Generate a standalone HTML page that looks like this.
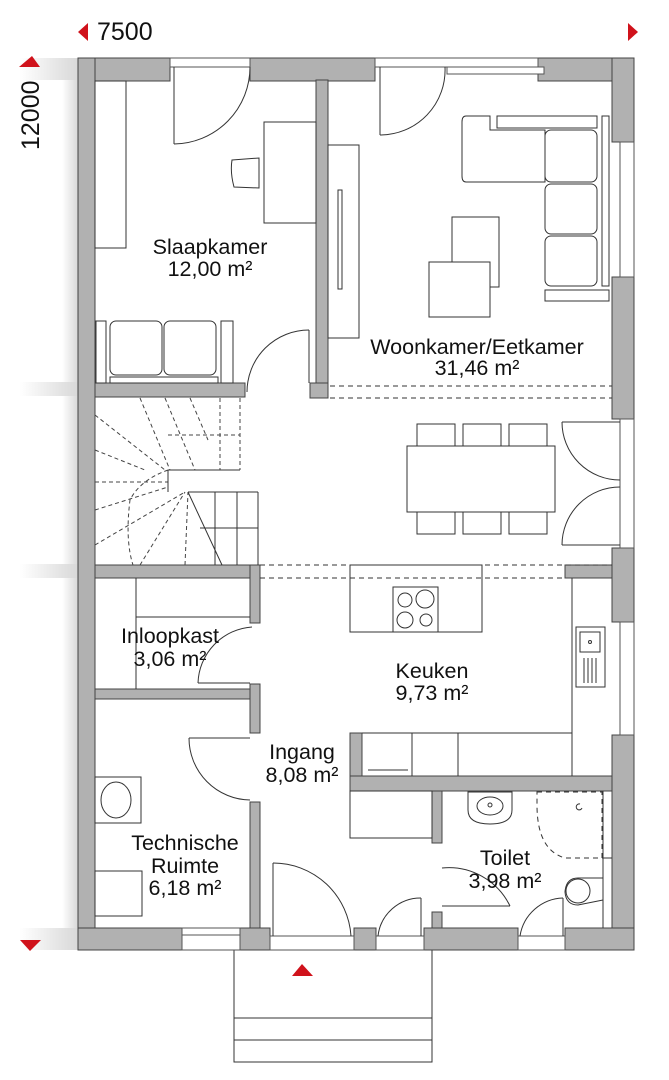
<!DOCTYPE html>
<html><head><meta charset="utf-8"><style>
html,body{margin:0;padding:0;background:#fff;width:669px;height:1080px;overflow:hidden}
svg{display:block}
text{font-family:"Liberation Sans Narrow","Liberation Sans",sans-serif;fill:#111}
</style></head><body>
<svg width="669" height="1080" viewBox="0 0 669 1080" xmlns="http://www.w3.org/2000/svg">
<defs>
<linearGradient id="gh" x1="0" x2="1" y1="0" y2="0"><stop offset="0" stop-color="#fff"/><stop offset="1" stop-color="#d8d8d8"/></linearGradient>
</defs>
<rect x="62" y="60" width="16" height="890" fill="url(#gh)"/>
<rect x="20" y="58" width="58" height="22" fill="url(#gh)"/>
<rect x="20" y="382" width="58" height="14" fill="url(#gh)"/>
<rect x="20" y="564" width="58" height="14" fill="url(#gh)"/>
<rect x="20" y="928" width="58" height="22" fill="url(#gh)"/>
<polygon points="78,32 88,23 88,41" fill="#d0121b"/>
<text x="97" y="40" font-size="25">7500</text>
<polygon points="638,32 628,23 628,41" fill="#d0121b"/>
<polygon points="32,56 19,67 40,67" fill="#d0121b"/>
<text transform="translate(39,150) rotate(-90)" font-size="25">12000</text>
<polygon points="20,940 41,940 30,951" fill="#d0121b"/>
<g fill="none" stroke="#333" stroke-width="1">
<rect x="234" y="950" width="198" height="112"/>
<line x1="234" y1="1018" x2="432" y2="1018"/>
<line x1="234" y1="1040" x2="432" y2="1040"/>
</g>
<polygon points="302,964 292,976 313,976" fill="#d0121b"/>
<g fill="#b1b1b1" stroke="#444" stroke-width="1">
<rect x="78" y="58" width="92" height="23"/>
<rect x="250" y="58" width="125" height="23"/>
<rect x="538" y="58" width="96" height="23"/>
<rect x="78" y="58" width="17" height="892"/>
<rect x="612" y="58" width="22" height="84"/>
<rect x="612" y="277" width="22" height="142"/>
<rect x="612" y="548" width="22" height="74"/>
<rect x="612" y="735" width="22" height="215"/>
<rect x="78" y="928" width="104" height="22"/>
<rect x="240" y="928" width="30" height="22"/>
<rect x="354" y="928" width="22" height="22"/>
<rect x="424" y="928" width="94" height="22"/>
<rect x="565" y="928" width="69" height="22"/>
<rect x="316" y="80" width="12" height="318"/>
<rect x="95" y="383" width="150" height="14"/>
<rect x="310" y="383" width="18" height="15"/>
<rect x="95" y="565" width="165" height="13"/>
<rect x="565" y="565" width="47" height="13"/>
<rect x="250" y="565" width="10" height="58"/>
<rect x="95" y="689" width="165" height="10"/>
<rect x="250" y="684" width="10" height="49"/>
<rect x="250" y="802" width="10" height="126"/>
<rect x="350" y="733" width="12" height="58"/>
<rect x="350" y="776" width="262" height="15"/>
<rect x="432" y="791" width="10" height="52"/>
<rect x="432" y="912" width="10" height="16"/>
</g>
<g fill="#fff" stroke="#555" stroke-width="1">
<rect x="170" y="58" width="80" height="9"/>
<rect x="375" y="58" width="163" height="9"/>
<rect x="447" y="67" width="97" height="7"/>
<rect x="620" y="142" width="14" height="135"/>
<rect x="620" y="419" width="14" height="129"/>
<rect x="620" y="622" width="14" height="113"/>
<rect x="182" y="928" width="58" height="22"/>
<line x1="182" y1="935" x2="240" y2="935"/>
<rect x="270" y="936" width="84" height="14"/>
<rect x="376" y="936" width="48" height="14"/>
<rect x="518" y="936" width="47" height="14"/>
</g>
<g fill="none" stroke="#333" stroke-width="1">
<rect x="95" y="81" width="31" height="167"/>
<rect x="264" y="122" width="52" height="101"/>
<path d="M232,160 L259,158 L259,188 L234,187 Q230,172 232,160Z"/>
<line x1="174" y1="67" x2="174" y2="144"/>
<path d="M174,144 A77,77 0 0 0 250,67"/>
<rect x="96" y="321" width="10" height="62"/>
<rect x="110" y="321" width="52" height="54" rx="6"/>
<rect x="164" y="321" width="52" height="54" rx="6"/>
<rect x="221" y="321" width="12" height="62"/>
<rect x="110" y="377" width="108" height="6"/>
<line x1="309" y1="330" x2="309" y2="383"/>
<path d="M309,330 A62,62 0 0 0 247,392"/>
<rect x="328" y="145" width="31" height="193"/>
<rect x="338" y="190" width="4" height="99"/>
<line x1="380" y1="67" x2="380" y2="135"/>
<path d="M380,135 A65,65 0 0 0 445,67"/>
<path d="M466,116 L490,116 L490,130 L545,130 L545,182 L466,182 Q462,182 462,176 L462,122 Q462,116 466,116Z"/>
<rect x="497" y="116" width="100" height="12"/>
<rect x="602" y="116" width="7" height="170"/>
<rect x="545" y="130" width="52" height="52" rx="6"/>
<rect x="545" y="184" width="52" height="50" rx="6"/>
<rect x="545" y="236" width="52" height="50" rx="6"/>
<rect x="545" y="290" width="64" height="11"/>
<rect x="452" y="217" width="47" height="70"/>
<rect x="429" y="262" width="61" height="55" fill="#fff"/>
<g stroke-dasharray="5,4">
<line x1="330" y1="386" x2="612" y2="386"/>
<line x1="330" y1="398" x2="612" y2="398"/>
<line x1="260" y1="565" x2="612" y2="565"/>
<line x1="260" y1="578" x2="565" y2="578"/>
</g>
<rect x="407" y="446" width="148" height="66"/>
<rect x="417" y="424" width="38" height="22"/>
<rect x="463" y="424" width="38" height="22"/>
<rect x="509" y="424" width="38" height="22"/>
<rect x="417" y="512" width="38" height="22"/>
<rect x="463" y="512" width="38" height="22"/>
<rect x="509" y="512" width="38" height="22"/>
<line x1="562" y1="422" x2="620" y2="422"/>
<path d="M562,422 A58,58 0 0 0 620,480"/>
<line x1="562" y1="545" x2="620" y2="545"/>
<path d="M562,545 A58,58 0 0 1 620,487"/>
<g stroke-dasharray="4,3" stroke="#444">
<line x1="240" y1="398" x2="240" y2="470"/>
<line x1="220" y1="398" x2="220" y2="470"/>
<line x1="170" y1="470" x2="240" y2="470"/>
<line x1="168" y1="435" x2="240" y2="435"/>
<line x1="140" y1="398" x2="170" y2="470"/>
<line x1="165" y1="398" x2="195" y2="470"/>
<line x1="190" y1="398" x2="208" y2="440"/>
<line x1="95" y1="415" x2="165" y2="470"/>
<line x1="95" y1="450" x2="145" y2="470"/>
<line x1="95" y1="482" x2="168" y2="482"/>
<line x1="95" y1="510" x2="168" y2="487"/>
<line x1="95" y1="545" x2="185" y2="492"/>
<line x1="140" y1="565" x2="185" y2="492"/>
<line x1="185" y1="565" x2="188" y2="492"/>
<path d="M168,470 Q140,480 130,500 Q125,540 133,565"/>
</g>
<line x1="168" y1="470" x2="240" y2="470"/>
<line x1="168" y1="470" x2="168" y2="492"/>
<line x1="188" y1="492" x2="258" y2="492"/>
<line x1="188" y1="492" x2="222" y2="565"/>
<line x1="215" y1="492" x2="215" y2="565"/>
<line x1="237" y1="492" x2="237" y2="565"/>
<line x1="258" y1="492" x2="258" y2="565"/>
<line x1="200" y1="528" x2="258" y2="528"/>
<rect x="350" y="565" width="132" height="67"/>
<rect x="393" y="587" width="45" height="45"/>
<circle cx="405" cy="600" r="7"/><circle cx="425" cy="599" r="9"/>
<circle cx="405" cy="620" r="8"/><circle cx="426" cy="620" r="6"/>
<line x1="572" y1="578" x2="572" y2="776"/>
<rect x="576" y="627" width="29" height="60"/>
<rect x="580" y="632" width="20" height="20"/>
<circle cx="590" cy="642" r="1.5"/>
<line x1="584" y1="658" x2="584" y2="683"/><line x1="588" y1="658" x2="588" y2="683"/>
<line x1="592" y1="658" x2="592" y2="683"/><line x1="596" y1="658" x2="596" y2="683"/>
<line x1="362" y1="733" x2="572" y2="733"/>
<line x1="412" y1="733" x2="412" y2="776"/>
<line x1="458" y1="733" x2="458" y2="776"/>
<line x1="368" y1="770" x2="408" y2="770"/>
<line x1="136" y1="578" x2="136" y2="689"/>
<line x1="136" y1="617" x2="250" y2="617"/>
<path d="M252,627 A58,58 0 0 0 198,683"/>
<line x1="198" y1="683" x2="250" y2="683"/>
<rect x="95" y="777" width="46" height="46"/>
<ellipse cx="116" cy="800" rx="15" ry="18"/>
<rect x="95" y="871" width="47" height="45"/>
<line x1="189" y1="738" x2="250" y2="738"/>
<path d="M189,738 A62,62 0 0 0 250,800"/>
<line x1="273" y1="863" x2="273" y2="936"/>
<path d="M273,863 A78,78 0 0 1 351,936"/>
<line x1="421" y1="898" x2="421" y2="936"/>
<path d="M421,898 A43,43 0 0 0 378,936"/>
<rect x="350" y="791" width="82" height="47"/>
<path d="M468,792 L512,792 L512,810 Q512,824 490,824 Q468,824 468,810Z"/>
<ellipse cx="490" cy="806" rx="13" ry="9"/>
<circle cx="490" cy="805" r="2"/>
<path d="M537,792 L602,792 L602,858 L565,858 Q537,850 537,805Z" stroke-dasharray="5,4"/>
<line x1="602" y1="858" x2="612" y2="858"/>
<line x1="603" y1="791" x2="603" y2="928"/>
<path d="M603,878 L578,878 Q566,878 565,892 Q566,905 578,905 L603,900"/>
<circle cx="578" cy="891" r="12"/>
<path d="M580,804 a3,3 0 1 0 2,4"/>
<line x1="442" y1="906" x2="510" y2="906"/>
<path d="M442,868 A68,68 0 0 1 510,906"/>
<line x1="563" y1="898" x2="563" y2="936"/>
<path d="M563,898 A45,45 0 0 0 520,936"/>
</g>
<g font-size="21.5" text-anchor="middle">
<text x="210" y="254">Slaapkamer</text>
<text x="210" y="276">12,00 m²</text>
<text x="477" y="354">Woonkamer/Eetkamer</text>
<text x="477" y="375">31,46 m²</text>
<text x="170" y="643">Inloopkast</text>
<text x="170" y="666">3,06 m²</text>
<text x="432" y="678">Keuken</text>
<text x="432" y="700">9,73 m²</text>
<text x="302" y="759">Ingang</text>
<text x="302" y="782">8,08 m²</text>
<text x="185" y="850">Technische</text>
<text x="185" y="873">Ruimte</text>
<text x="185" y="895">6,18 m²</text>
<text x="505" y="865">Toilet</text>
<text x="505" y="888">3,98 m²</text>
</g>
</svg>
</body></html>
